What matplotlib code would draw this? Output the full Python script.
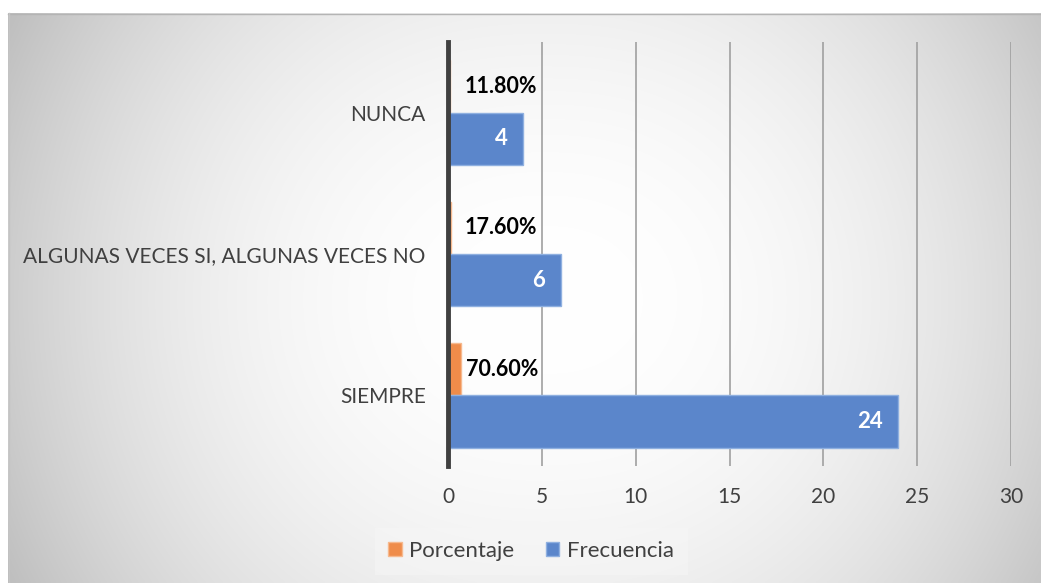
import numpy as np
import matplotlib
matplotlib.use("Agg")
import matplotlib.pyplot as plt
from matplotlib.patches import Rectangle

categories = ["SIEMPRE", "ALGUNAS VECES SI, ALGUNAS VECES NO", "NUNCA"]
frecuencia = [24, 6, 4]
porcentaje = [0.706, 0.176, 0.118]
porcentaje_labels = ["70.60%", "17.60%", "11.80%"]
xticks = [0, 5, 10, 15, 20, 25, 30]

W, H = 1041, 583
fig = plt.figure(figsize=(W / 100, H / 100), dpi=100)
fig.patch.set_facecolor("white")

# background radial gradient
bg = fig.add_axes([0, 0, 1, 1], zorder=-10)
bg.set_xlim(0, W)
bg.set_ylim(H, 0)
bg.axis("off")
x0, y0 = 8, 13
xs = np.linspace(x0, W, 400)
ys = np.linspace(y0, H, 250)
X, Y = np.meshgrid(xs, ys)
cx, cy = 545, 300
rx = np.abs(X - cx) / 530
ry = np.abs(Y - cy) / 290
v = 1.0 - 0.19 * np.clip(rx, 0, 1.05) ** 2.3 - 0.06 * np.clip(ry, 0, 1) ** 2
img = np.dstack([v, v, v])
bg.imshow(img, extent=(x0, W, H, y0), aspect="auto", interpolation="bilinear")
bg.plot([x0, W], [y0 + 0.5, y0 + 0.5], color="#b4b4b4", lw=1)
bg.plot([x0 + 0.5, x0 + 0.5], [y0, H], color="#c4c4c4", lw=1)

# legend box background
bg.add_patch(Rectangle((375, 528), 313, 47, facecolor="#f6f6f6", edgecolor="none", alpha=0.5))

ax = fig.add_axes([448 / W, 1 - 466 / H, (1011 - 448) / W, (466 - 42) / H])
ax.patch.set_alpha(0)
font = "Lato"

ypos = np.arange(len(categories))
h = 0.37
orange = "#EF8C4A"
blue = "#5B86CB"
b_or = ax.barh(ypos + h / 2, porcentaje, height=h, color=orange, edgecolor="#f6b98e", lw=1, label="Porcentaje", zorder=3)
b_bl = ax.barh(ypos - h / 2, frecuencia, height=h, color=blue, edgecolor="#8fb0e0", lw=1, label="Frecuencia", zorder=3)

for yy, val, lab in zip(ypos, porcentaje, porcentaje_labels):
    ax.annotate(lab, (val, yy + h / 2), xytext=(11.5 - val * 11, 0), textcoords="offset points",
                ha="left", va="center", fontsize=15.5, fontweight="bold", color="black",
                family=font, zorder=5)
for yy, val in zip(ypos, frecuencia):
    ax.annotate(str(val), (val, yy - h / 2), xytext=(-11, 0), textcoords="offset points",
                ha="right", va="center", fontsize=16, fontweight="bold", color="white",
                family=font, zorder=5)

ax.set_xlim(0, 30)
ax.set_ylim(-0.5, 2.5)
ax.set_xticks(xticks)
ax.set_xticklabels([str(t) for t in xticks], fontsize=15, color="#404040", family=font)
ax.set_yticks(ypos)
ax.set_yticklabels(categories, fontsize=15, color="#404040", family=font)
ax.tick_params(axis="both", length=0)
ax.tick_params(axis="x", pad=15)
ax.tick_params(axis="y", pad=16)
for t in xticks[1:]:
    ax.axvline(t, color="#a0a0a0", lw=1.2, zorder=1)
for s in ["top", "right", "bottom"]:
    ax.spines[s].set_visible(False)
ax.spines["left"].set_color("#404040")
ax.spines["left"].set_linewidth(3.5)
ax.spines["left"].set_zorder(4)

leg = fig.legend(handles=[b_or, b_bl], labels=["Porcentaje", "Frecuencia"], loc="center",
                 bbox_to_anchor=(531 / W, 1 - 551 / H), ncol=2, frameon=False,
                 prop={"family": font, "size": 16}, handlelength=0.6, handleheight=0.6,
                 handletextpad=0.35, columnspacing=1.4)
for t in leg.get_texts():
    t.set_color("#404040")

fig.savefig("out.png", dpi=100)
